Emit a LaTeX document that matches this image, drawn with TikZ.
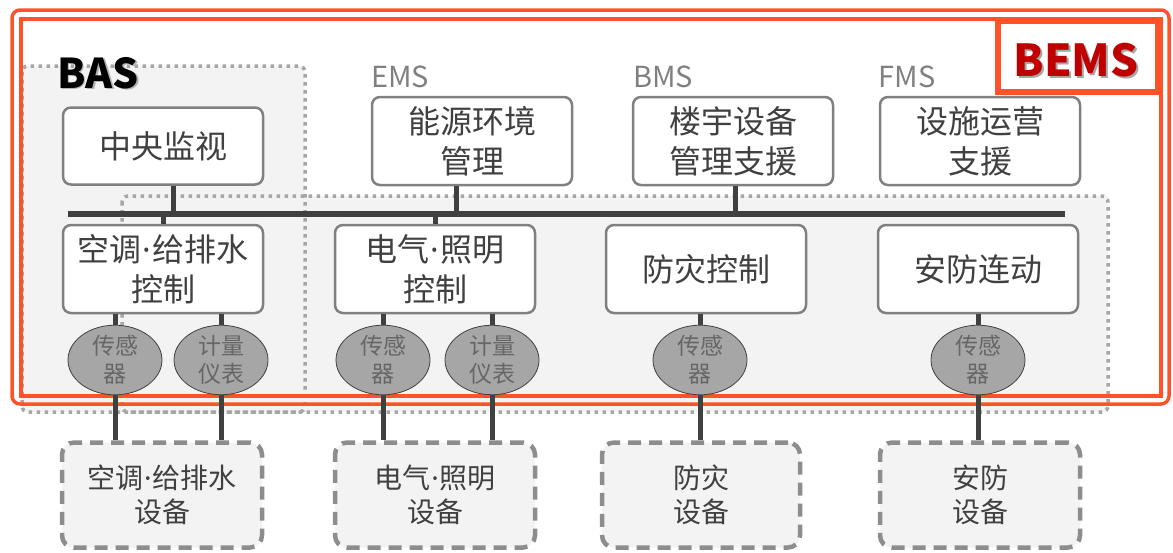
\documentclass[tikz,border=0pt]{standalone}
\usepackage{fontspec}
\setmainfont{Noto Sans CJK SC}
\newfontfamily\dotfont{Noto Sans}
\newcommand\ndot{{\dotfont\kern1pt·\kern1pt}}
\usetikzlibrary{positioning,shapes.geometric,calc}
\definecolor{bemsred}{RGB}{255,82,40}
\definecolor{darkred}{RGB}{192,0,0}
\definecolor{txtgray}{RGB}{64,64,64}
\definecolor{linegray}{RGB}{64,64,64}
\definecolor{boxgray}{RGB}{128,128,128}
\definecolor{dotgray}{RGB}{166,166,166}
\definecolor{regfill}{RGB}{243,243,243}
\definecolor{sensfill}{RGB}{166,166,166}

\begin{document}
\begin{tikzpicture}[x=1pt,y=-1pt,
ctrlbox/.style={
  draw=boxgray, line width=2.5pt,
  rounded corners=8pt, fill=white,
  minimum width=200pt, minimum height=88pt,
  inner sep=0pt, align=center, text=txtgray,
  font=\fontsize{32}{40}\selectfont},
devbox/.style={
  draw=boxgray!90, line width=4.5pt,
  dash pattern=on 13pt off 8pt,
  rounded corners=12pt, fill=regfill,
  minimum width=200pt, minimum height=105pt,
  inner sep=0pt, align=center, text=txtgray,
  font=\fontsize{28}{34}\selectfont},
sensor/.style={
  ellipse, draw=linegray, line width=0.8pt,
  fill=sensfill, minimum width=94pt, minimum height=66pt,
  inner sep=0pt, align=center, text=txtgray!80,
  font=\fontsize{23}{28}\selectfont},
link/.style={draw=linegray, line width=5pt},
region/.style={
  draw=dotgray, line width=3.5pt,
  dash pattern=on 3.5pt off 4.5pt,
  rounded corners=6pt, fill=regfill},
sysname/.style={anchor=base, text=gray,
  font=\fontsize{29}{29}\selectfont}
]
\useasboundingbox (0,0) rectangle (1173,552);
% BAS and lower dotted regions
\fill[regfill] (22,66) rectangle (305,412);
\fill[regfill] (122,196) rectangle (1108,412);
\draw[region, fill=none] (22,66) rectangle (305,412);
\draw[region, fill=none] (122,196) rectangle (1108,412);
% BEMS frame
\draw[bemsred, line width=3.5pt, rounded corners=8pt] (12,10) rectangle (1169,404);
\draw[bemsred, line width=3.5pt] (21,19) rectangle (1161,396);
\draw[bemsred, line width=6pt, fill=white] (998,21) rectangle (1158,92);
\node[anchor=base, text=gray!70, font=\fontsize{44}{44}\selectfont\bfseries]
  at (1078,78) {BEMS};
\node[anchor=base, text=darkred, font=\fontsize{44}{44}\selectfont\bfseries]
  (bems) at (1076,76) {BEMS};
\node[anchor=base, text=gray!60, font=\fontsize{41}{41}\selectfont\bfseries]
  at (99.5,89.5) {BAS};
\node[anchor=base, text=black, font=\fontsize{41}{41}\selectfont\bfseries]
  (bas) at (98,88) {BAS};
\node[sysname] (emsl) at (400,87) {EMS};
\node[sysname] (bmsl) at (663,87) {BMS};
\node[sysname] (fmsl) at (907,87) {FMS};
% management level
\node[ctrlbox, minimum height=77pt] (cm) at (163,146) {中央监视};
\node[ctrlbox] (ems) at (472,141) {能源环境\\管理};
\node[ctrlbox] (bms) at (733,141) {楼宇设备\\管理支援};
\node[ctrlbox] (fms) at (980,141) {设施运营\\支援};
% control level
\node[ctrlbox] (hvac) at (163,269) {空调\ndot 给排水\\控制};
\node[ctrlbox] (elec) at (435,269) {电气\ndot 照明\\控制};
\node[ctrlbox] (fire) at (706,269) {防灾控制};
\node[ctrlbox] (sec) at (978,269) {安防连动};
% sensors and meters
\node[sensor] (s1) at (115,360) {传感\\器};
\node[sensor] (m1) at (221,360) {计量\\仪表};
\node[sensor] (s2) at (383,360) {传感\\器};
\node[sensor] (m2) at (492,360) {计量\\仪表};
\node[sensor] (s3) at (700,360) {传感\\器};
\node[sensor] (s4) at (978,360) {传感\\器};
% equipment
\node[devbox] (e1) at (162,495) {空调\ndot 给排水\\设备};
\node[devbox] (e2) at (435,495) {电气\ndot 照明\\设备};
\node[devbox, minimum width=198pt] (e3) at (701,495) {防灾\\设备};
\node[devbox] (e4) at (980,495) {安防\\设备};
% bus
\coordinate (busL) at (68,214);
\coordinate (busR) at (1065,214);
\draw[link, line width=6pt] (busL) -- (busR);
\draw[link] ([xshift=10pt]cm.south) -- ([xshift=10pt]cm.south |- busL);
\draw[link] ([xshift=-16pt]ems.south) -- ([xshift=-16pt]ems.south |- busL);
\draw[link] ([xshift=2pt]bms.south) -- ([xshift=2pt]bms.south |- busL);
\draw[link] (hvac.north) -- (hvac.north |- busL);
\draw[link] (elec.north) -- (elec.north |- busL);
\foreach \Sen/\Ctl/\Dev in {s1/hvac/e1, m1/hvac/e1, s2/elec/e2,
  m2/elec/e2, s3/fire/e3, s4/sec/e4}{
  \draw[link] (\Sen.north) -- (\Sen.north |- \Ctl.south);
  \draw[link] (\Sen.south) -- (\Sen.south |- \Dev.north);
}
\end{tikzpicture}
\end{document}
